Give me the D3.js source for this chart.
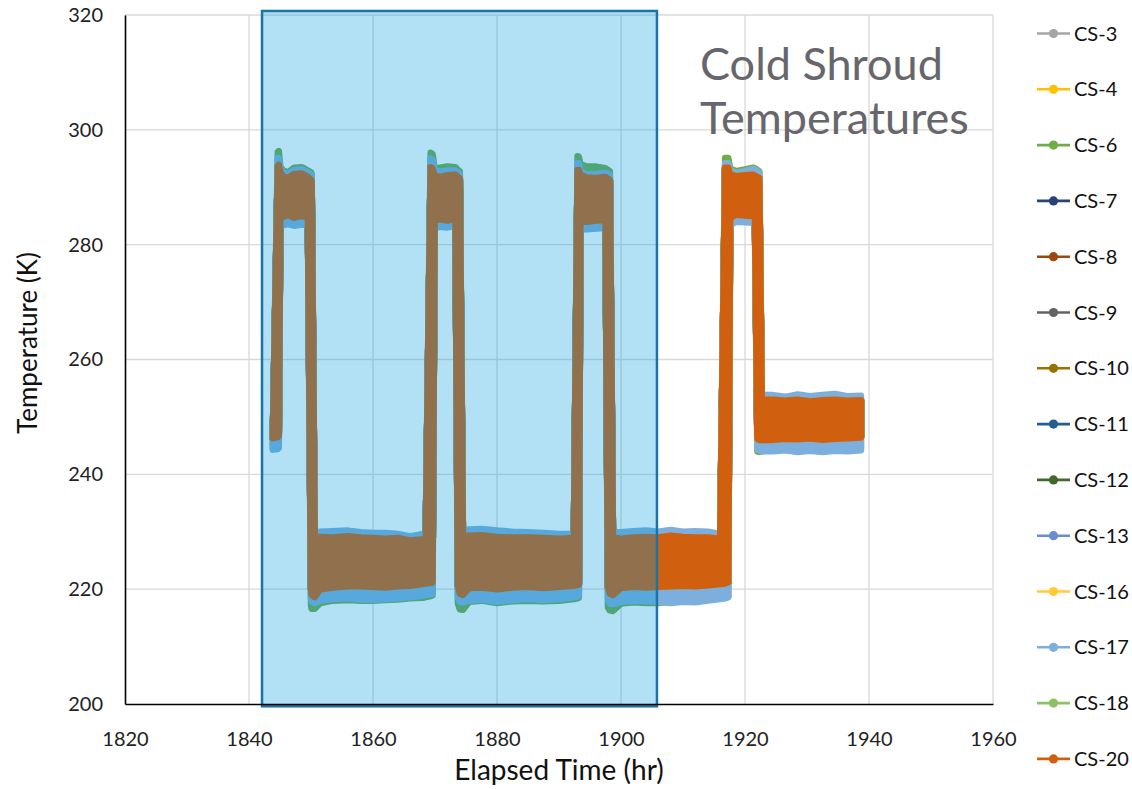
<!DOCTYPE html>
<html><head><meta charset="utf-8">
<script src="https://cdn.jsdelivr.net/npm/d3@7"></script>
<style>
body{margin:0;background:#fff;}
svg{display:block;font-family:Lato,"Open Sans",sans-serif;}
</style>
</head><body>
<svg id="chart" width="1132" height="789"></svg>
<script>
// ---------------- data ----------------
const seriesNames  = ["CS-3","CS-4","CS-6","CS-7","CS-8","CS-9","CS-10","CS-11","CS-12","CS-13","CS-16","CS-17","CS-18","CS-20"];
const seriesColors = ["#A5A5A5","#FFC000","#70AD47","#264478","#9E480E","#636363","#997300","#255E91","#43682B","#698ED0","#FFCD33","#7CAFDD","#8CC168","#D0600F"];
// which envelope (min/max of the rapidly cycling readings) each sensor follows
const seriesProfile = ["core","core","green","core","core","core","core","core","core","core","core","outer","core","core"];

const xTicks = [1820,1840,1860,1880,1900,1920,1940,1960];
const yTicks = [200,220,240,260,280,300,320];
const highlightWindow = [1842.1, 1905.8];   // shaded test window (hr)

// envelope knots (elapsed time, hr)
const timeHr = [
 1843.85,1844.65,1844.8,1845.05,1845.5,1846.3,1847.3,1848.5,1849.5,1850.0,1850.1,1850.6,
 1851.5,1853.5,1856.0,1858.0,1860.0,1862.0,1864.0,1866.0,1868.1,
 1868.5,1869.3,1869.6,1869.95,1870.8,1872.0,1873.3,1873.7,1874.0,1874.5,
 1875.5,1877.5,1880.0,1882.5,1885.0,1887.5,1890.0,1892.4,
 1893.0,1893.2,1893.45,1894.5,1896.0,1897.5,1897.9,1898.2,1898.7,
 1900.0,1902.0,1904.0,1906.0,1908.0,1910.0,1912.0,1914.0,1916.0,
 1916.8,1917.3,1917.6,1918.5,1920.0,1921.3,1921.6,1922.0,1922.3,1922.7,
 1924.5,1926.5,1928.5,1930.5,1932.5,1934.5,1936.5,1938.7
];
const coreLo = [
 246.3,246.5,246.7,284.6,284.8,285.2,284.7,285.0,284.8,220.4,219.0,218.6,
 220.0,220.3,220.5,220.5,220.4,220.3,220.5,220.6,220.9,
 221.0,221.1,221.2,284.3,284.4,284.2,284.5,220.6,219.2,219.0,
 220.2,220.3,220.0,220.3,220.4,220.2,220.4,220.6,
 220.7,220.8,284.0,284.0,284.2,284.3,220.4,219.2,219.0,
 220.2,220.4,220.3,220.4,220.5,220.6,220.5,220.7,220.9,
 221.0,221.2,284.6,285.2,285.1,285.0,285.0,246.2,246.0,246.0,
 246.0,246.2,246.1,246.3,246.0,246.2,246.3,246.4
];
const coreHi = [
 246.8,293.7,293.9,292.6,291.9,291.6,292.3,292.4,291.8,291.3,291.0,228.9,
 229.1,229.0,229.2,229.0,228.9,228.8,228.9,228.5,228.7,
 228.8,293.5,293.3,292.0,291.8,292.1,292.2,291.8,291.5,229.2,
 229.3,229.4,229.1,229.0,229.0,228.9,228.8,228.9,
 293.0,293.0,292.2,291.7,291.6,291.8,291.5,291.3,229.0,
 228.8,229.0,229.1,229.0,229.3,229.1,229.0,229.0,228.8,
 293.4,293.4,292.3,291.9,292.1,292.2,292.0,291.8,291.6,253.0,
 253.0,252.8,253.0,252.7,252.9,253.0,252.8,252.9
];
const outerLo = [
 244.3,244.4,244.6,283.3,283.4,283.6,283.3,283.5,283.4,218.4,217.8,217.6,
 218.0,218.3,218.4,218.2,218.1,218.3,218.4,218.6,218.9,
 219.0,219.1,219.2,283.0,283.1,283.0,283.3,218.5,217.8,217.7,
 218.0,218.2,217.8,218.1,218.3,218.1,218.3,218.6,
 218.7,218.8,282.7,282.7,282.8,282.9,218.2,217.5,217.4,
 217.8,218.0,217.9,217.8,217.6,217.8,217.7,218.0,218.3,
 218.4,218.6,283.4,284.0,283.9,283.8,283.8,244.3,244.2,244.0,
 244.0,244.2,243.9,244.1,243.9,244.1,244.0,244.2
];
const outerHi = [
 247.4,295.1,295.1,293.2,292.6,292.3,293.0,293.1,292.6,292.3,292.1,229.8,
 230.0,230.1,230.2,229.9,229.8,229.8,229.6,229.2,229.6,
 229.6,295.0,294.7,292.9,292.7,292.9,292.9,292.6,292.4,230.2,
 230.4,230.5,230.2,230.0,229.9,229.8,229.6,229.6,
 294.2,294.2,292.8,292.2,292.3,292.5,292.3,292.2,229.9,
 229.9,230.1,230.2,230.0,230.3,230.0,230.1,230.0,229.6,
 294.2,294.2,293.0,292.5,292.8,293.2,293.0,292.8,292.6,253.8,
 253.8,253.5,253.9,253.6,253.8,254.0,253.6,253.7
];
const greenLo = [
 244.6,244.8,245.0,283.7,284.2,284.4,284.0,284.2,284.0,217.2,216.6,216.6,
 217.6,218.0,218.1,218.0,218.0,218.1,218.2,218.4,218.5,
 218.6,218.8,218.9,283.5,283.6,283.5,283.8,217.5,216.5,216.4,
 217.8,218.0,217.6,217.9,218.0,217.9,218.0,218.3,
 218.4,218.5,283.3,283.3,283.4,283.5,216.8,216.3,216.2,
 217.5,217.7,217.6,217.6,217.8,218.0,218.0,218.2,218.4,
 218.5,218.7,283.8,284.4,284.3,284.2,284.2,244.0,243.9,244.0,
 244.3,244.5,244.3,244.4,244.2,244.4,244.3,244.5
];
const greenHi = [
 247.0,296.2,296.3,293.6,292.9,292.6,293.4,293.5,292.9,292.6,292.4,229.5,
 229.6,229.6,229.7,229.5,229.4,229.4,229.3,229.0,229.3,
 229.3,296.0,295.8,293.2,293.4,293.6,293.5,293.0,292.8,229.8,
 229.9,230.0,229.8,229.6,229.5,229.4,229.3,229.3,
 295.4,295.3,294.0,293.6,293.6,293.3,293.0,292.8,229.5,
 229.5,229.6,229.7,229.6,229.8,229.7,229.6,229.6,229.4,
 295.1,295.1,293.3,292.8,293.1,293.4,293.3,293.0,292.8,253.4,
 253.3,253.1,253.4,253.1,253.3,253.4,253.2,253.3
];
const profiles = {
  core:  {lo: coreLo,  hi: coreHi},
  outer: {lo: outerLo, hi: outerHi},
  green: {lo: greenLo, hi: greenHi}
};

// ---------------- drawing ----------------
const svg = d3.select("#chart");
svg.append("rect").attr("width",1132).attr("height",789).attr("fill","#fff");

const x = d3.scaleLinear().domain([1820,1960]).range([125,993]);
const y = d3.scaleLinear().domain([200,320]).range([704,15]);

// gridlines
const grid = svg.append("g").attr("stroke","#D9D9D9").attr("stroke-width",1.3);
grid.selectAll("line.v").data(xTicks.slice(1)).join("line")
  .attr("x1",d=>x(d)).attr("x2",d=>x(d)).attr("y1",y(320)).attr("y2",y(200));
grid.selectAll("line.h").data(yTicks.slice(1)).join("line")
  .attr("x1",x(1820)).attr("x2",x(1960)).attr("y1",d=>y(d)).attr("y2",d=>y(d));

// title
const title = svg.append("text").attr("fill","#66666B").attr("font-size",45);
title.append("tspan").attr("x",700).attr("y",80).text("Cold Shroud");
title.append("tspan").attr("x",700).attr("y",134).text("Temperatures");

// series envelopes
const area = d3.area()
  .x((d,i)=>x(timeHr[i]))
  .y0(d=>y(d[0])).y1(d=>y(d[1]));
const dataG = svg.append("g");
seriesNames.forEach((name,si)=>{
  const p = profiles[seriesProfile[si]];
  const pts = timeHr.map((t,i)=>[p.lo[i],p.hi[i]]);
  dataG.append("path").datum(pts)
    .attr("d",area)
    .attr("fill",seriesColors[si])
    .attr("stroke",seriesColors[si])
    .attr("stroke-width",6.5)
    .attr("stroke-linejoin","round");
});

// shaded window overlay
svg.append("rect")
  .attr("x",x(highlightWindow[0])).attr("y",y(320.7))
  .attr("width",x(highlightWindow[1])-x(highlightWindow[0]))
  .attr("height",y(199.6)-y(320.7))
  .attr("fill","rgb(0,152,222)").attr("fill-opacity",0.3)
  .attr("stroke","#1A74A6").attr("stroke-width",2.5);

// axes
const gy = svg.append("g").attr("transform",`translate(${x(1820)},0)`)
  .call(d3.axisLeft(y).tickValues(yTicks).tickFormat(d3.format("d")).tickSize(0).tickPadding(22));
const gx = svg.append("g").attr("transform",`translate(0,${y(200)})`)
  .call(d3.axisBottom(x).tickValues(xTicks).tickFormat(d3.format("d")).tickSize(0).tickPadding(28));
[gx,gy].forEach(g=>{
  g.select(".domain").attr("stroke","#000").attr("stroke-width",1.6);
  g.selectAll("text").attr("font-family","Lato,'Open Sans',sans-serif").attr("font-size",20).attr("fill","#222");
});

// axis titles
svg.append("text").attr("x",559).attr("y",780).attr("text-anchor","middle")
  .attr("font-size",28).attr("fill","#111").text("Elapsed Time (hr)");
svg.append("text").attr("transform","translate(37,343) rotate(-90)").attr("text-anchor","middle")
  .attr("font-size",26).attr("fill","#111").text("Temperature (K)");

// legend
const leg = svg.append("g");
seriesNames.forEach((name,i)=>{
  const cy = 33.5 + i*55.8;
  leg.append("line").attr("x1",1037).attr("x2",1070).attr("y1",cy).attr("y2",cy)
    .attr("stroke",seriesColors[i]).attr("stroke-width",2.6);
  leg.append("circle").attr("cx",1053.5).attr("cy",cy).attr("r",4.6).attr("fill",seriesColors[i]);
  leg.append("text").attr("x",1074).attr("y",cy).attr("dy","0.35em")
    .attr("font-size",20).attr("fill","#111").text(name);
});
</script>
</body></html>
